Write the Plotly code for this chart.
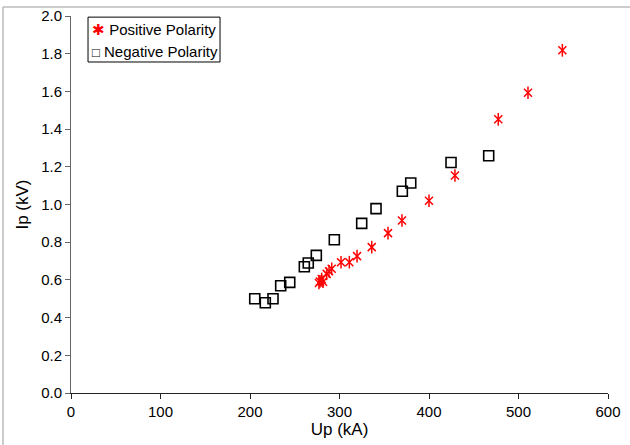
import plotly.graph_objects as go

pos_up = [549, 510.6, 477.4, 429, 400, 369.8, 354.2, 336, 319.6, 311, 301.7, 291.3, 288.3, 285.7, 280.1, 278.2, 277, 281.6]
pos_ip = [1.818, 1.593, 1.452, 1.154, 1.02, 0.915, 0.848, 0.774, 0.726, 0.694, 0.694, 0.659, 0.646, 0.632, 0.605, 0.592, 0.584, 0.59]

neg_up = [466.7, 424.6, 379.6, 370.2, 340.8, 324.8, 294.2, 274.1, 265.1, 260.7, 244.4, 234.3, 225.7, 217.1, 205.3]
neg_ip = [1.259, 1.223, 1.114, 1.070, 0.978, 0.900, 0.813, 0.730, 0.690, 0.670, 0.587, 0.569, 0.500, 0.479, 0.500]

series_names = ["Positive Polarity", "Negative Polarity"]

FONT = "Liberation Sans, Arial"

fig = go.Figure()
# Excel-style six-armed asterisk = thin x + vertical line
fig.add_trace(go.Scatter(x=pos_up, y=pos_ip, mode="markers", name=series_names[0], showlegend=False,
                         marker=dict(symbol="x-thin-open", size=8, color="red",
                                     line=dict(color="red", width=1.5))))
fig.add_trace(go.Scatter(x=pos_up, y=pos_ip, mode="markers", name=series_names[0], showlegend=False,
                         marker=dict(symbol="line-ns-open", size=9, color="red",
                                     line=dict(color="red", width=1.5))))
fig.add_trace(go.Scatter(x=neg_up, y=neg_ip, mode="markers", name=series_names[1], showlegend=False,
                         marker=dict(symbol="square-open", size=10, color="black",
                                     line=dict(color="#222222", width=1.6))))

axis_common = dict(showgrid=False, zeroline=False, showline=True, linewidth=1,
                   ticks="outside", ticklen=5, automargin=False,
                   tickfont=dict(family=FONT, size=15, color="black"))
fig.update_xaxes(range=[0, 600], dtick=100, tick0=0, linecolor="#222222", tickcolor="#222222",
                 title=dict(text="Up (kA)", font=dict(family=FONT, size=17, color="black"), standoff=3),
                 **axis_common)
fig.update_yaxes(range=[0, 2], dtick=0.2, tick0=0, tickformat=".1f", linecolor="#666666", tickcolor="#666666",
                 title=dict(text="Ip (kV)", font=dict(family=FONT, size=17, color="black"), standoff=8),
                 **axis_common)

legend_text = [
    "<span style='color:red'>✱</span> " + series_names[0],
    "<span style='font-size:13px'>□</span> " + series_names[1],
]

fig.update_layout(
    width=630, height=445,
    margin=dict(l=71, r=22, t=16, b=52),
    plot_bgcolor="white", paper_bgcolor="white",
    showlegend=False,
    shapes=[
        dict(type="line", xref="paper", yref="paper", x0=-0.1266, x1=-0.1266, y0=-0.2, y1=1.0239,
             line=dict(color="#bbbbbb", width=1.5)),
        dict(type="line", xref="paper", yref="paper", x0=-0.1266, x1=1.05, y0=1.0239, y1=1.0239,
             line=dict(color="#bbbbbb", width=1.5)),
        dict(type="rect", xref="paper", yref="paper", x0=0.0317, x1=0.2775, y0=0.878, y1=0.997,
             line=dict(color="black", width=1), fillcolor="white", layer="below"),
    ],
    annotations=[
        dict(xref="paper", yref="paper", x=0.036, y=0.963, xanchor="left", yanchor="middle",
             text=legend_text[0], showarrow=False, font=dict(family=FONT, size=15, color="black")),
        dict(xref="paper", yref="paper", x=0.036, y=0.905, xanchor="left", yanchor="middle",
             text=legend_text[1], showarrow=False, font=dict(family=FONT, size=15, color="black")),
    ],
)

fig.write_html("out.html")
